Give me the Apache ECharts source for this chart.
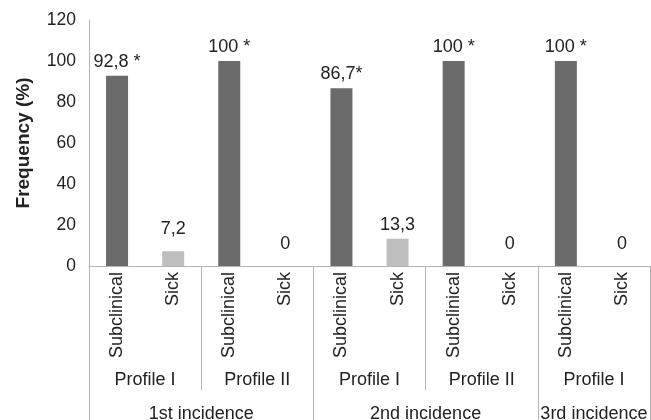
<!DOCTYPE html>
<html>
<head>
<meta charset="utf-8">
<script src="https://cdn.jsdelivr.net/npm/echarts@6/dist/echarts.min.js"></script>
<style>html,body{margin:0;padding:0;background:#fff}#c{width:651px;height:420px}</style>
</head>
<body>
<div id="c"></div>
<script>
const categories = ['Subclinical','Sick','Subclinical','Sick','Subclinical','Sick','Subclinical','Sick','Subclinical','Sick'];
const values = [92.8, 7.2, 100, 0, 86.7, 13.3, 100, 0, 100, 0];
const valueLabels = ['92,8 *', '7,2', '100 *', '0', '86,7*', '13,3', '100 *', '0', '100 *', '0'];
const profileLabels = ['Profile I', 'Profile II', 'Profile I', 'Profile II', 'Profile I'];
const profileCenters = [1, 3, 5, 7, 9];
const profileBounds = [2, 6];
const incidenceLabels = ['1st incidence', '2nd incidence', '3rd incidence'];
const incidenceCenters = [2, 6, 9];
const incidenceBounds = [0, 4, 8, 10];
const yTicks = [0, 20, 40, 60, 80, 100, 120];

const FONT = 'Liberation Sans, Arial, sans-serif';
const TXT = '#222222';
const LINE = '#b3b3b3';
const DARK = '#6b6b6b';
const LIGHT = '#bebebe';
const FS = 18;

const chart = echarts.init(document.getElementById('c'), null, {renderer: 'canvas'});
chart.setOption({
  animation: false,
  backgroundColor: '#ffffff',
  textStyle: {fontFamily: FONT},
  grid: {left: 89, right: 1, top: 20, bottom: 154, containLabel: false, outerBoundsMode: 'none'},
  xAxis: [
    {
      type: 'category', data: categories, position: 'bottom',
      axisLine: {show: true, lineStyle: {color: LINE, width: 1}},
      axisTick: {show: false},
      axisLabel: {rotate: 90, margin: 6, fontSize: FS, color: TXT, fontFamily: FONT, interval: 0}
    },
    {
      type: 'value', min: 0, max: 10, position: 'bottom',
      axisLine: {show: false}, splitLine: {show: false},
      axisTick: {show: true, customValues: profileBounds, length: 124, lineStyle: {color: LINE, width: 1}},
      axisLabel: {customValues: profileCenters, margin: 105, fontSize: FS, color: TXT, fontFamily: FONT,
        formatter: v => profileLabels[profileCenters.indexOf(v)]}
    },
    {
      type: 'value', min: 0, max: 10, position: 'bottom',
      axisLine: {show: false}, splitLine: {show: false},
      axisTick: {show: true, customValues: incidenceBounds, length: 160, lineStyle: {color: LINE, width: 1}},
      axisLabel: {customValues: incidenceCenters, margin: 139, fontSize: FS, color: TXT, fontFamily: FONT,
        formatter: v => incidenceLabels[incidenceCenters.indexOf(v)]}
    }
  ],
  yAxis: {
    type: 'value', min: 0, max: 120, interval: 20,
    name: 'Frequency (%)', nameLocation: 'middle', nameRotate: 90, nameGap: 56,
    nameTextStyle: {fontSize: 19, fontWeight: 'bold', color: TXT, fontFamily: FONT},
    axisLine: {show: true, lineStyle: {color: LINE, width: 1}},
    axisTick: {show: false},
    splitLine: {show: false},
    axisLabel: {margin: 13, fontSize: 17.5, color: TXT, fontFamily: FONT,
      formatter: v => String(yTicks[yTicks.indexOf(v)])}
  },
  series: [{
    type: 'bar',
    xAxisIndex: 0,
    barWidth: 22,
    data: values.map((v, i) => ({
      value: v,
      itemStyle: {color: categories[i] === 'Sick' ? LIGHT : DARK},
      label: {distance: (v < 10 ? 13 : 5)}
    })),
    label: {
      show: true, position: 'top', fontSize: FS, color: TXT, fontFamily: FONT,
      formatter: p => valueLabels[p.dataIndex]
    }
  }]
});
</script>
</body>
</html>
